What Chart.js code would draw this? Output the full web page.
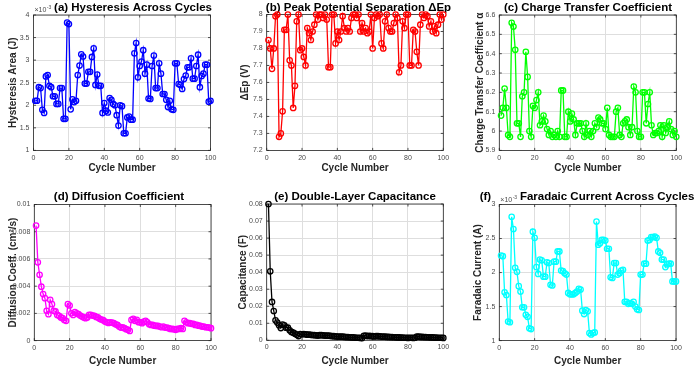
<!DOCTYPE html>
<html><head><meta charset="utf-8">
<script src="https://cdn.jsdelivr.net/npm/chart.js@4"></script>
<style>
html,body{margin:0;padding:0;background:#fff;width:696px;height:366px;overflow:hidden;position:relative}
canvas{position:absolute}
</style></head><body>
<script>
// ---------------- data ----------------
const cycles = [1,2,3,4,5,6,7,8,9,10,11,12,13,14,15,16,17,18,19,20,21,22,23,24,25,26,27,28,29,30,31,32,33,34,35,36,37,38,39,40,41,42,43,44,45,46,47,48,49,50,51,52,53,54,55,56,57,58,59,60,61,62,63,64,65,66,67,68,69,70,71,72,73,74,75,76,77,78,79,80,81,82,83,84,85,86,87,88,89,90,91,92,93,94,95,96,97,98,99,100];

const hysteresisArea = [2.10e-3,2.10e-3,2.40e-3,2.38e-3,1.90e-3,1.83e-3,2.64e-3,2.67e-3,2.43e-3,2.40e-3,
2.20e-3,2.20e-3,2.03e-3,2.03e-3,2.38e-3,2.38e-3,1.70e-3,1.70e-3,3.83e-3,3.80e-3,
1.91e-3,2.13e-3,2.07e-3,2.10e-3,2.67e-3,2.88e-3,3.13e-3,3.08e-3,2.48e-3,2.48e-3,
2.74e-3,2.74e-3,3.07e-3,3.26e-3,2.45e-3,2.68e-3,2.43e-3,2.43e-3,1.83e-3,2.05e-3,
1.88e-3,1.84e-3,2.16e-3,2.12e-3,2.03e-3,2.00e-3,1.78e-3,1.55e-3,2.00e-3,1.98e-3,
1.38e-3,1.38e-3,1.73e-3,1.75e-3,1.68e-3,1.68e-3,3.15e-3,3.38e-3,2.62e-3,2.87e-3,
2.97e-3,3.22e-3,2.70e-3,2.90e-3,2.15e-3,2.14e-3,2.87e-3,3.10e-3,2.38e-3,2.38e-3,
2.93e-3,2.70e-3,2.25e-3,2.25e-3,2.12e-3,1.96e-3,2.10e-3,1.91e-3,1.90e-3,2.93e-3,
2.93e-3,2.47e-3,2.45e-3,2.36e-3,2.58e-3,2.66e-3,2.84e-3,2.84e-3,3.04e-3,2.59e-3,
2.59e-3,2.87e-3,3.12e-3,2.40e-3,2.65e-3,2.70e-3,2.90e-3,2.90e-3,2.08e-3,2.10e-3];

const peakSeparation = [7.85,7.80,7.68,7.80,7.99,8.00,7.28,7.30,7.43,7.91,
7.91,8.00,7.73,7.70,7.45,7.58,7.96,8.00,7.79,7.80,
7.75,7.70,7.92,7.89,7.85,7.90,7.94,8.00,7.97,8.00,
8.00,7.98,8.00,7.97,7.69,7.69,8.00,8.00,7.83,7.90,
7.85,7.90,7.99,7.92,7.90,7.92,7.90,7.98,8.00,8.00,
7.98,8.00,7.90,7.95,7.90,7.92,7.89,7.90,8.00,7.80,
7.98,8.00,7.99,8.00,7.83,7.80,7.96,8.00,7.92,7.90,
7.90,7.95,8.00,7.98,7.66,7.70,7.96,7.92,8.00,8.00,
7.70,7.70,7.91,7.90,7.78,7.70,7.94,8.00,7.98,8.00,
7.99,7.93,7.96,7.90,7.93,7.89,7.94,8.00,7.97,8.00];

const chargeTransfer = [6.08,6.12,6.22,6.12,5.98,5.97,6.56,6.54,6.42,6.04,
6.04,5.97,6.18,6.20,6.41,6.28,6.00,5.97,6.13,6.12,
6.16,6.20,6.03,6.05,6.08,6.05,6.01,5.98,6.00,5.97,
5.98,5.97,6.00,5.97,6.21,6.21,5.97,5.97,6.10,6.05,
6.09,6.06,5.98,6.04,6.04,6.04,6.00,5.97,6.04,5.98,
6.00,5.97,6.00,6.04,6.02,6.07,6.06,6.04,6.04,6.01,
6.12,5.98,5.97,5.97,5.97,6.10,6.12,5.98,5.97,6.04,
6.05,6.06,6.02,5.98,6.02,6.23,6.20,6.00,5.97,5.97,
6.20,6.20,6.04,6.14,6.20,6.03,5.98,5.99,5.99,6.00,
6.03,5.97,6.03,5.99,6.02,6.05,6.01,5.98,6.00,5.97];

const diffusionCoeff = [0.00845,0.00575,0.00484,0.00396,0.00342,0.00312,0.00219,0.00194,0.00300,0.00268,
0.00219,0.00214,0.00189,0.00182,0.00170,0.00165,0.00152,0.00145,0.00268,0.00258,
0.00201,0.00189,0.00209,0.00201,0.00194,0.00184,0.00177,0.00170,0.00165,0.00170,
0.00189,0.00189,0.00184,0.00182,0.00174,0.00170,0.00160,0.00155,0.00150,0.00140,
0.00135,0.00130,0.00135,0.00133,0.00128,0.00120,0.00115,0.00103,0.00096,0.00098,
0.00091,0.00084,0.00079,0.00071,0.00152,0.00160,0.00145,0.00152,0.00135,0.00135,
0.00128,0.00140,0.00145,0.00135,0.00120,0.00115,0.00115,0.00110,0.00108,0.00108,
0.00103,0.00098,0.00103,0.00096,0.00096,0.00091,0.00086,0.00086,0.00084,0.00079,
0.00086,0.00086,0.00091,0.00086,0.00145,0.00135,0.00128,0.00128,0.00123,0.00123,
0.00115,0.00115,0.00110,0.00108,0.00103,0.00103,0.00098,0.00098,0.00096,0.00091];

const capacitance = [0.0800,0.0405,0.0225,0.0172,0.0117,0.0104,0.0088,0.0072,0.0092,0.0088,
0.0074,0.0074,0.0059,0.0049,0.0045,0.0039,0.0033,0.0025,0.0037,0.0035,
0.0037,0.0035,0.0033,0.0033,0.0032,0.0031,0.0030,0.0029,0.0028,0.0030,
0.0030,0.0029,0.0028,0.0027,0.0027,0.0026,0.0025,0.0024,0.0023,0.0022,
0.0022,0.0021,0.0021,0.0020,0.0019,0.0019,0.0018,0.0017,0.0017,0.0016,
0.0015,0.0015,0.0014,0.0013,0.0026,0.0027,0.0025,0.0026,0.0024,0.0024,
0.0023,0.0024,0.0025,0.0023,0.0022,0.0021,0.0021,0.0020,0.0020,0.0019,
0.0019,0.0018,0.0018,0.0017,0.0017,0.0016,0.0016,0.0015,0.0015,0.0014,
0.0015,0.0015,0.0014,0.0015,0.0022,0.0021,0.0020,0.0020,0.0019,0.0019,
0.0018,0.0018,0.0017,0.0017,0.0016,0.0016,0.0015,0.0015,0.0015,0.0014];

const faradaicCurrent = [2.25e-3,2.24e-3,1.71e-3,1.67e-3,1.28e-3,1.27e-3,2.82e-3,2.64e-3,2.07e-3,2.01e-3,
1.80e-3,1.72e-3,1.49e-3,1.49e-3,1.38e-3,1.35e-3,1.18e-3,1.17e-3,2.60e-3,2.51e-3,
2.08e-3,1.98e-3,2.19e-3,2.18e-3,1.94e-3,1.94e-3,2.15e-3,2.14e-3,1.82e-3,1.81e-3,
2.16e-3,2.16e-3,2.31e-3,2.31e-3,2.03e-3,2.02e-3,1.99e-3,1.97e-3,1.70e-3,1.68e-3,
1.68e-3,1.68e-3,1.70e-3,1.72e-3,1.76e-3,1.75e-3,1.44e-3,1.39e-3,1.45e-3,1.43e-3,
1.11e-3,1.09e-3,1.11e-3,1.12e-3,2.75e-3,2.41e-3,2.43e-3,2.48e-3,2.48e-3,2.47e-3,
2.35e-3,2.35e-3,1.93e-3,1.92e-3,2.14e-3,2.14e-3,1.97e-3,1.99e-3,2.03e-3,2.04e-3,
1.57e-3,1.57e-3,1.54e-3,1.55e-3,1.54e-3,1.57e-3,1.50e-3,1.46e-3,1.45e-3,1.97e-3,
1.97e-3,2.13e-3,2.13e-3,2.47e-3,2.48e-3,2.52e-3,2.52e-3,2.53e-3,2.51e-3,2.31e-3,
2.29e-3,2.19e-3,2.19e-3,2.08e-3,2.12e-3,2.13e-3,2.13e-3,1.87e-3,1.87e-3,1.87e-3];

// tick values / labels
const xTickValues = [0,20,40,60,80,100];
const xTickLabels = ['0','20','40','60','80','100'];
const yTicksA = [1e-3,1.5e-3,2e-3,2.5e-3,3e-3,3.5e-3,4e-3];
const yLabelsA = ['1','1.5','2','2.5','3','3.5','4'];
const yTicksB = [7.2,7.3,7.4,7.5,7.6,7.7,7.8,7.9,8.0];
const yLabelsB = ['7.2','7.3','7.4','7.5','7.6','7.7','7.8','7.9','8'];
const yTicksC = [5.9,6.0,6.1,6.2,6.3,6.4,6.5,6.6];
const yLabelsC = ['5.9','6','6.1','6.2','6.3','6.4','6.5','6.6'];
const yTicksD = [0,0.002,0.004,0.006,0.008,0.01];
const yLabelsD = ['0','0.002','0.004','0.006','0.008','0.01'];
const yTicksE = [0,0.01,0.02,0.03,0.04,0.05,0.06,0.07,0.08];
const yLabelsE = ['0','0.01','0.02','0.03','0.04','0.05','0.06','0.07','0.08'];
const yTicksF = [1e-3,1.5e-3,2e-3,2.5e-3,3e-3];
const yLabelsF = ['1','1.5','2','2.5','3'];

const titles = ['(a) Hysteresis Across Cycles','(b) Peak Potential Separation \u0394Ep','(c) Charge Transfer Coefficient',
  '(d) Diffusion Coefficient','(e) Double-Layer Capacitance','(f)         Faradaic Current Across Cycles'];
const yAxisLabels = ['Hysteresis Area (J)','\u0394Ep (V)','Charge Transfer Coefficient \u03b1',
  'Diffusion Coeff. (cm\u00b2/s)','Capacitance (F)','Faradaic Current (A)'];
const xAxisLabel = 'Cycle Number';

// ---------------- styling / layout ----------------
const FONT = "'Liberation Sans', Arial, Helvetica, sans-serif";
const TITLE_SIZE = 11.5, LABEL_SIZE = 10, TICK_SIZE = 7;
const GRID = '#dedede', TICKC = '#4a4a4a', AXC = '#262626';

const panels = [
 {values:hysteresisArea, color:'#0000ff', yt:yTicksA, yl:yLabelsA, exponent:'-3',
  g:{plot:[33.5,15,210.5,150.7], titleX:133, titleY:7.5, yTitleX:13.3, xTitleY:168.3}},
 {values:peakSeparation, color:'#ff0000', yt:yTicksB, yl:yLabelsB,
  g:{plot:[266.7,14.5,443.3,150.7], titleX:358.7, titleY:7.5, yTitleX:245, xTitleY:168.3}},
 {values:chargeTransfer, color:'#00ff00', yt:yTicksC, yl:yLabelsC,
  g:{plot:[499.3,15,676.3,150.7], titleX:588, titleY:7.5, yTitleX:480, xTitleY:168.3}},
 {values:diffusionCoeff, color:'#ff00ff', yt:yTicksD, yl:yLabelsD,
  g:{plot:[34.3,204.5,211,340.3], titleX:119, titleY:196.8, yTitleX:13.3, xTitleY:360.7}},
 {values:capacitance, color:'#000000', yt:yTicksE, yl:yLabelsE,
  g:{plot:[266.7,204,443.3,340], titleX:355, titleY:196.8, yTitleX:243, xTitleY:360.7}},
 {values:faradaicCurrent, color:'#00ffff', yt:yTicksF, yl:yLabelsF, exponent:'-3',
  g:{plot:[499.3,204.5,676,340.3], titleX:587, titleY:196.8, yTitleX:477.7, xTitleY:360.7}}
];

const panelBox = {
  id:'panelBox',
  beforeDatasetsDraw(chart, args, opts){
    const {ctx, chartArea:a, scales:{x,y}} = chart;
    ctx.save();
    ctx.strokeStyle = AXC; ctx.lineWidth = 0.8;
    ctx.strokeRect(a.left, a.top, a.right-a.left, a.bottom-a.top);
    const tl = 2.5;
    ctx.beginPath();
    x.ticks.forEach(t=>{const px=x.getPixelForValue(t.value);
      ctx.moveTo(px,a.bottom);ctx.lineTo(px,a.bottom-tl);ctx.moveTo(px,a.top);ctx.lineTo(px,a.top+tl);});
    y.ticks.forEach(t=>{const py=y.getPixelForValue(t.value);
      ctx.moveTo(a.left,py);ctx.lineTo(a.left+tl,py);ctx.moveTo(a.right,py);ctx.lineTo(a.right-tl,py);});
    ctx.stroke();
    if (opts && opts.exponent){
      ctx.fillStyle = TICKC;
      ctx.textAlign='left'; ctx.textBaseline='alphabetic';
      ctx.font = `7px ${FONT}`;
      const x0 = a.left+1, y0 = a.top-3;
      ctx.fillText('\u00d710', x0, y0);
      const w = ctx.measureText('\u00d710').width;
      ctx.font = `5px ${FONT}`;
      ctx.fillText(opts.exponent, x0+w+0.5, y0-3);
    }
    ctx.restore();
  }
};

panels.forEach((p, idx)=>{
  const g = p.g;
  const lhT = TITLE_SIZE*1.2, lhL = LABEL_SIZE*1.2;
  const L = Math.round(g.yTitleX - lhL/2 - 1);
  const T = Math.round(g.titleY - lhT/2 - 1);
  const W = Math.round(2*(g.titleX - L));
  const YW = g.plot[0] - L;
  const XH = g.xTitleY + lhL/2 + 1 - g.plot[3];
  const H = Math.round(g.plot[3] + XH - T);
  const titlePB = g.plot[1] - T - 1 - lhT;
  const RW = L + W - g.plot[2];
  const c = document.createElement('canvas');
  c.width = W; c.height = H;
  c.style.left = L+'px'; c.style.top = T+'px';
  c.style.width = W+'px'; c.style.height = H+'px';
  document.body.appendChild(c);
  new Chart(c, {
    type:'line',
    data:{datasets:[{
      data: cycles.map((cy,i)=>({x:cy, y:p.values[i]})),
      borderColor:p.color, backgroundColor:'rgba(0,0,0,0)',
      pointBorderColor:p.color, pointBackgroundColor:'rgba(0,0,0,0)',
      borderWidth:1.3, pointRadius:2.7, pointBorderWidth:1.3, tension:0, clip:false
    }]},
    options:{
      responsive:false, animation:false, events:[],
      layout:{padding:0},
      plugins:{
        legend:{display:false}, tooltip:{enabled:false},
        title:{display:true, text:titles[idx], color:'#000',
          font:{family:FONT, size:TITLE_SIZE, weight:'bold', lineHeight:1.2},
          padding:{top:1, bottom:titlePB}},
        panelBox:{exponent:p.exponent}
      },
      scales:{
        x:{type:'linear', min:0, max:100,
          afterBuildTicks:s=>{s.ticks = xTickValues.map(v=>({value:v}));},
          afterFit:s=>{s.height = XH;},
          grid:{color:GRID, drawTicks:false}, border:{display:false},
          ticks:{autoSkip:false, maxRotation:0, padding:3, color:TICKC,
            font:{family:FONT, size:TICK_SIZE}, callback:(v,i)=>xTickLabels[i]},
          title:{display:true, text:xAxisLabel, color:AXC,
            font:{family:FONT, size:LABEL_SIZE, weight:'bold', lineHeight:1.2}, padding:{top:0, bottom:1}}},
        y:{type:'linear', position:'left', min:p.yt[0], max:p.yt[p.yt.length-1],
          afterBuildTicks:s=>{s.ticks = p.yt.map(v=>({value:v}));},
          afterFit:s=>{s.width = YW;},
          grid:{color:GRID, drawTicks:false}, border:{display:false},
          ticks:{autoSkip:false, padding:4, color:TICKC,
            font:{family:FONT, size:TICK_SIZE}, callback:(v,i)=>p.yl[i]},
          title:{display:true, text:yAxisLabels[idx], color:AXC,
            font:{family:FONT, size:LABEL_SIZE, weight:'bold', lineHeight:1.2}, padding:{top:1, bottom:0}}},
        spacer:{type:'linear', position:'right', axis:'y', min:0, max:1, display:true,
          afterFit:s=>{s.width = RW;},
          grid:{display:false, drawTicks:false}, border:{display:false},
          ticks:{display:false}, title:{display:false}}
      }
    },
    plugins:[panelBox]
  });
});
</script>
</body></html>
